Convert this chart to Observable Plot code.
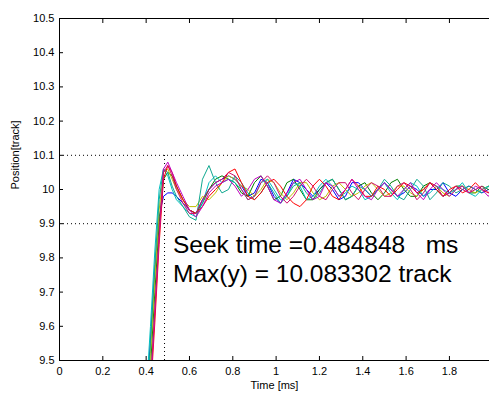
<!DOCTYPE html>
<html><head><meta charset="utf-8">
<script src="https://cdn.jsdelivr.net/npm/d3@7"></script>
<script src="https://cdn.jsdelivr.net/npm/@observablehq/plot@0.6"></script>
<style>
html,body{margin:0;padding:0;background:#fff;}
svg text{white-space:pre;}
</style></head><body><div id="chart"></div>
<script>
// Time axis (ms) shared by all runs
const time = [0.40,0.42,0.44,0.46,0.48,0.50,0.52,0.54,0.57,0.60,0.63,0.66,0.69,0.72,0.75,0.78,0.81,0.84,0.87,0.90,0.93,0.96,0.99,1.02,1.05,1.08,1.11,1.14,1.17,1.20,1.23,1.26,1.29,1.32,1.35,1.38,1.41,1.44,1.47,1.50,1.53,1.56,1.59,1.62,1.65,1.68,1.71,1.74,1.77,1.80,1.83,1.86,1.89,1.92,1.95,1.98,2.00];

const seriesNames = ["run1","run2","run3","run4","run5","run6","run7","run8"];
const seriesColors = ["#0000ff","#008000","#bfbf00","#00bfbf","#10a890","#ff0000","#bf00bf","#d0106a"];

const run1 = [9.37,9.56,9.76,9.92,9.98,9.99,9.99,9.98,9.96,9.94,9.93,9.97,10.00,10.02,10.03,10.04,10.03,
  10.01,9.98,9.99,10.03,10.02,9.98,9.96,9.99,10.03,10.02,10.00,9.98,10.00,10.02,10.00,9.97,9.98,10.02,10.02,10.00,9.98,10.00,10.02,10.00,9.98,9.99,10.01,10.00,9.98,10.00,10.00,10.02,9.99,9.98,10.00,10.01,10.00,9.99,10.00,10.00];
const run2 = [9.30,9.48,9.70,9.90,10.03,10.05,10.04,10.01,9.97,9.94,9.93,9.96,10.00,10.03,10.04,10.03,10.02,
  9.99,9.98,10.02,10.04,10.01,9.97,9.98,10.02,10.03,10.00,9.97,9.97,10.00,10.02,10.03,10.00,9.97,9.98,10.01,10.02,9.99,9.97,9.99,10.02,10.03,10.00,9.98,9.98,10.01,10.02,10.00,9.98,9.99,10.01,10.01,9.99,9.99,10.01,10.00,9.99];
const run3 = [9.33,9.52,9.74,9.94,10.05,10.06,10.03,10.00,9.97,9.95,9.95,9.98,9.97,9.99,10.02,10.04,10.03,
  10.01,10.00,9.98,10.00,10.03,10.02,9.99,9.97,9.99,10.02,10.02,9.99,9.97,9.98,10.01,10.02,10.00,9.98,9.99,10.01,10.02,10.00,9.98,9.99,10.01,10.01,9.99,9.98,10.00,10.02,10.01,9.99,9.98,10.00,10.01,10.00,9.99,10.00,10.01,10.00];
const run4 = [9.40,9.60,9.82,10.00,10.06,10.04,10.00,9.97,9.95,9.93,9.92,9.96,10.02,10.04,10.02,10.03,10.02,
  10.00,9.97,9.98,10.02,10.03,10.00,9.97,9.98,10.02,10.01,9.97,9.98,10.01,10.03,10.01,9.98,9.99,10.01,10.00,9.97,9.98,10.00,10.02,9.99,9.97,10.00,10.02,10.01,9.98,9.99,10.01,10.00,9.99,10.00,10.02,9.99,9.98,10.00,10.01,9.99];
const run5 = [9.35,9.55,9.78,9.97,10.06,10.05,10.01,9.98,9.95,9.92,9.91,10.03,10.07,10.02,9.99,10.00,10.04,
  10.02,9.99,9.97,9.99,10.02,9.99,9.96,9.98,10.01,10.02,9.99,9.97,9.99,10.02,10.03,10.00,9.97,9.98,10.01,10.00,9.98,10.00,10.03,10.01,9.98,9.97,10.00,10.03,10.01,9.97,9.99,10.02,10.01,9.99,10.00,10.01,10.00,9.99,10.01,10.00];
const run6 = [9.22,9.40,9.61,9.84,10.03,10.07,10.05,10.01,9.97,9.94,9.93,9.95,9.98,10.00,10.02,10.05,10.06,
  10.02,9.98,9.97,9.99,10.02,10.03,10.01,9.98,9.96,9.95,9.97,10.01,10.03,10.01,9.98,9.97,10.00,10.03,10.01,9.98,9.98,10.01,10.00,9.98,10.00,10.02,10.01,9.99,10.00,10.02,10.00,9.98,10.00,10.01,9.99,10.00,10.02,10.00,9.99,10.01];
const run7 = [9.25,9.42,9.64,9.86,10.06,10.08,10.05,10.02,9.98,9.94,9.92,9.95,9.99,10.01,10.02,10.03,10.01,
  9.98,10.00,10.03,10.04,10.01,9.97,9.96,9.99,10.02,10.03,10.00,9.97,9.98,10.02,10.01,9.98,10.00,10.03,10.00,9.98,9.97,10.00,10.02,10.00,9.98,10.00,10.02,9.99,9.97,10.00,10.02,10.00,9.98,10.00,10.01,9.99,10.01,10.00,9.98,10.00];
const run8 = [9.24,9.43,9.65,9.87,10.05,10.07,10.04,10.00,9.96,9.93,9.93,9.97,10.00,10.02,10.03,10.05,10.04,
  10.00,9.97,9.98,10.02,10.04,10.02,9.98,9.96,9.98,10.01,10.03,10.01,9.98,9.97,10.00,10.02,10.02,9.99,9.97,10.00,10.02,10.01,9.98,9.98,10.01,10.02,10.00,9.97,9.99,10.02,10.01,9.98,9.99,10.01,10.00,9.99,10.00,10.01,9.99,10.00];

const xTicks = [0,0.2,0.4,0.6,0.8,1,1.2,1.4,1.6,1.8];
const yTicks = [9.5,9.6,9.7,9.8,9.9,10,10.1,10.2,10.3,10.4,10.5];
const bandLines = [9.9, 10.1];
const seekTime = 0.484848;
const annotationLines = ["Seek time =0.484848   ms", "Max(y) = 10.083302 track"];
const annotationPos = [{x: 0.524, y: 9.799}];
const xLabel = "Time [ms]";
const yLabel = "Position[track]";

const seriesValues = [run1, run2, run3, run4, run5, run6, run7, run8];
const rows = seriesValues.flatMap((vals, i) => vals.map((v, j) => ({t: time[j], y: v, s: seriesNames[i]})));
const fmt = d => String(+(+d).toFixed(1));
const font = "'Liberation Sans', Arial, Helvetica, sans-serif";

const chart = Plot.plot({
  width: 489, height: 396,
  marginLeft: 59, marginRight: 0, marginTop: 18, marginBottom: 36,
  style: {fontFamily: font, fontSize: "11px", background: "white", color: "black", overflow: "visible"},
  x: {domain: [0, 1.985]},
  y: {domain: [9.5, 10.5]},
  color: {domain: seriesNames, range: seriesColors},
  marks: [
    Plot.ruleY(bandLines, {stroke: "black", strokeDasharray: "1,3", strokeWidth: 1}),
    Plot.ruleX([seekTime], {y1: 9.5, y2: 10.1, stroke: "black", strokeDasharray: "1,3", strokeWidth: 1}),
    Plot.line(rows, {x: "t", y: "y", z: "s", stroke: "s", strokeWidth: 1, clip: true}),
    Plot.axisX({ticks: xTicks, tickSize: -4, tickPadding: 11, tickFormat: fmt, label: null, fontSize: 11}),
    Plot.axisX({anchor: "top", ticks: xTicks, tickSize: -4, tickFormat: () => "", label: null}),
    Plot.axisY({ticks: yTicks, tickSize: -4, tickPadding: 9, tickFormat: fmt, label: null, fontSize: 11}),
    Plot.ruleX([0], {stroke: "black"}),
    Plot.ruleY([9.5], {stroke: "black"}),
    Plot.ruleY([10.5], {stroke: "black"}),
    Plot.text(annotationPos, {x: "x", y: "y", text: () => annotationLines.join("\n"), textAnchor: "start", lineAnchor: "middle", fontSize: 24.5, lineHeight: 1.18, fill: "black"}),
    Plot.text([xLabel], {frameAnchor: "bottom", dy: 25, lineAnchor: "middle", fontSize: 11, fill: "black"}),
    Plot.text([yLabel], {frameAnchor: "left", dx: -44, rotate: -90, lineAnchor: "middle", fontSize: 11, fill: "black"})
  ]
});
document.getElementById("chart").appendChild(chart);
</script></body></html>
